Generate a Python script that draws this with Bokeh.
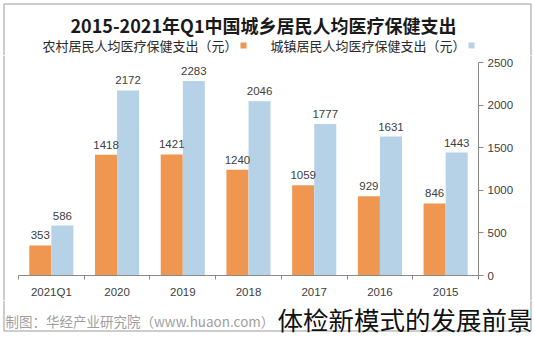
from bokeh.plotting import figure
from bokeh.layouts import column, row
from bokeh.models import (ColumnDataSource, FactorRange, Range1d, LinearAxis, CategoricalAxis,
                          FixedTicker, LabelSet)
from bokeh.transform import dodge
from bokeh.core.properties import value
from bokeh.embed import file_html
from bokeh.resources import INLINE

# ---- data ----
years = ["2015", "2016", "2017", "2018", "2019", "2020", "2021Q1"]
rural = [846, 929, 1059, 1240, 1421, 1418, 353]
urban = [1443, 1631, 1777, 2046, 2283, 2172, 586]
y_ticks = [0, 500, 1000, 1500, 2000, 2500]
title_text = "2015-2021年Q1中国城乡居民人均医疗保健支出"
rural_name = "农村居民人均医疗保健支出（元）"
urban_name = "城镇居民人均医疗保健支出（元）"
source_text = "制图：华经产业研究院（www.huaon.com）"
caption_text = "体检新模式的发展前景"

ORANGE = "#EF9650"
BLUE = "#B6D2E6"
AXIS = "#8a8a8a"
FRAME = "#9a9a9a"
TXT = "#404040"
NUMFONT = "Liberation Sans"
CJK = "Noto Sans CJK SC"
W_ALL = 534
H_TOP, H_MID, H_BOT = 55, 245, 34
W_LS, W_RS = 18, 14


def no_align(f):
    if "frame_align" in f.properties():
        f.frame_align = False
    return f


def blank(width, height):
    f = figure(width=width, height=height, x_range=Range1d(0, width), y_range=Range1d(height, 0),
               x_axis_location=None, y_axis_location=None, min_border=0,
               output_backend="svg", toolbar_location=None)
    f.outline_line_color = None
    f.xgrid.visible = False
    f.ygrid.visible = False
    f.background_fill_color = "white"
    f.border_fill_color = "white"
    return no_align(f)


# ---------- top: title + legend ----------
top = blank(W_ALL, H_TOP)
top.multi_line(xs=[[3.5, 3.5, 530.5, 530.5]], ys=[[H_TOP, 3.5, 3.5, H_TOP]], line_color=FRAME)
top.text(x=[263], y=[24.5], text=[title_text], text_align="center", text_baseline="middle",
         text_font=value(CJK), text_font_style="bold", text_font_size=value("18px"),
         text_color="#1a1a1a")
leg = ColumnDataSource(dict(mx=[243, 471], name=[rural_name, urban_name], col=[ORANGE, BLUE],
                            tx=[237, 465], my=[45, 45]))
top.rect(x="mx", y="my", width=6, height=6, fill_color="col", line_color=None, source=leg)
top.text(x="tx", y="my", text="name", text_align="right", text_baseline="middle",
         text_font=value(CJK), text_font_size=value("13px"), text_color="#2a2a2a", source=leg)

# ---------- middle: the chart ----------
src = ColumnDataSource(dict(year=years, rural=rural, urban=urban,
                            rl=[str(v) for v in rural], ul=[str(v) for v in urban]))
p = figure(width=W_ALL - W_LS - W_RS, height=H_MID, x_range=FactorRange(*reversed(years)),
           y_range=Range1d(0, 2500), x_axis_location=None, y_axis_location="right",
           output_backend="svg", toolbar_location=None,
           min_border_left=0, min_border_right=W_ALL - W_RS - 478, min_border_top=62 - H_TOP,
           min_border_bottom=H_TOP + H_MID - 276)
no_align(p)
p.outline_line_color = None
p.background_fill_color = "white"
p.border_fill_color = "white"
p.xgrid.visible = False
p.ygrid.visible = False

ya = p.yaxis[0]
ya.ticker = FixedTicker(ticks=y_ticks)
ya.axis_line_color = AXIS
ya.major_tick_line_color = AXIS
ya.major_tick_out = 5
ya.major_tick_in = 0
ya.minor_tick_line_color = None
ya.major_label_standoff = 4
ya.major_label_text_font = NUMFONT
ya.major_label_text_font_size = "11.5px"
ya.major_label_text_color = TXT

edge_axis = LinearAxis(ticker=FixedTicker(ticks=list(range(len(years) + 1))))
edge_axis.axis_line_color = AXIS
edge_axis.major_tick_line_color = AXIS
edge_axis.major_tick_out = 4
edge_axis.major_tick_in = 0
edge_axis.minor_tick_line_color = None
edge_axis.major_label_overrides = {i: " " for i in range(len(years) + 1)}
edge_axis.major_label_text_font_size = "1px"
edge_axis.major_label_standoff = 0
p.add_layout(edge_axis, "below")

cat_axis = CategoricalAxis()
cat_axis.axis_line_color = None
cat_axis.major_tick_line_color = None
cat_axis.major_tick_out = 0
cat_axis.major_tick_in = 0
cat_axis.major_label_standoff = 2
cat_axis.major_label_text_font = NUMFONT
cat_axis.major_label_text_font_size = "11.5px"
cat_axis.major_label_text_color = TXT
p.add_layout(cat_axis, "below")

W = 0.335
OFF = 0.168
p.vbar(x=dodge("year", -OFF, range=p.x_range), top="rural", width=W, source=src,
       fill_color=ORANGE, line_color=None)
p.vbar(x=dodge("year", OFF, range=p.x_range), top="urban", width=W, source=src,
       fill_color=BLUE, line_color=None)

for fld, lab, off in (("rural", "rl", -OFF), ("urban", "ul", OFF)):
    p.add_layout(LabelSet(x=dodge("year", off, range=p.x_range), y=fld, text=lab, source=src,
                          y_offset=6, text_align="center", text_baseline="bottom",
                          text_font=value(NUMFONT), text_font_size=value("11.5px"),
                          text_color=TXT))

# side strips carrying the picture's frame line
left_strip = blank(W_LS, H_MID)
left_strip.line(x=[3.5, 3.5], y=[0, H_MID], line_color=FRAME)
right_strip = blank(W_RS, H_MID)
right_strip.line(x=[530.5 - (W_ALL - W_RS)] * 2, y=[0, H_MID], line_color=FRAME)

# ---------- bottom: source + caption ----------
bot = blank(W_ALL, H_BOT)
bot.multi_line(xs=[[3.5, 3.5, 530.5, 530.5]], ys=[[0, 30.5, 30.5, 0]], line_color=FRAME)
bot.text(x=[5], y=[20], text=[source_text], text_align="left", text_baseline="middle",
         text_font=value(CJK), text_font_size=value("13.5px"), text_color="#a0a0a0")
bot.text(x=[277], y=[18], text=[caption_text], text_align="left", text_baseline="middle",
         text_font=value(CJK), text_font_size=value("25.5px"), text_color="#111111")

layout = column(top, row(left_strip, p, right_strip, spacing=0), bot, spacing=0)

open("out.html", "w").write(file_html(layout, INLINE))
